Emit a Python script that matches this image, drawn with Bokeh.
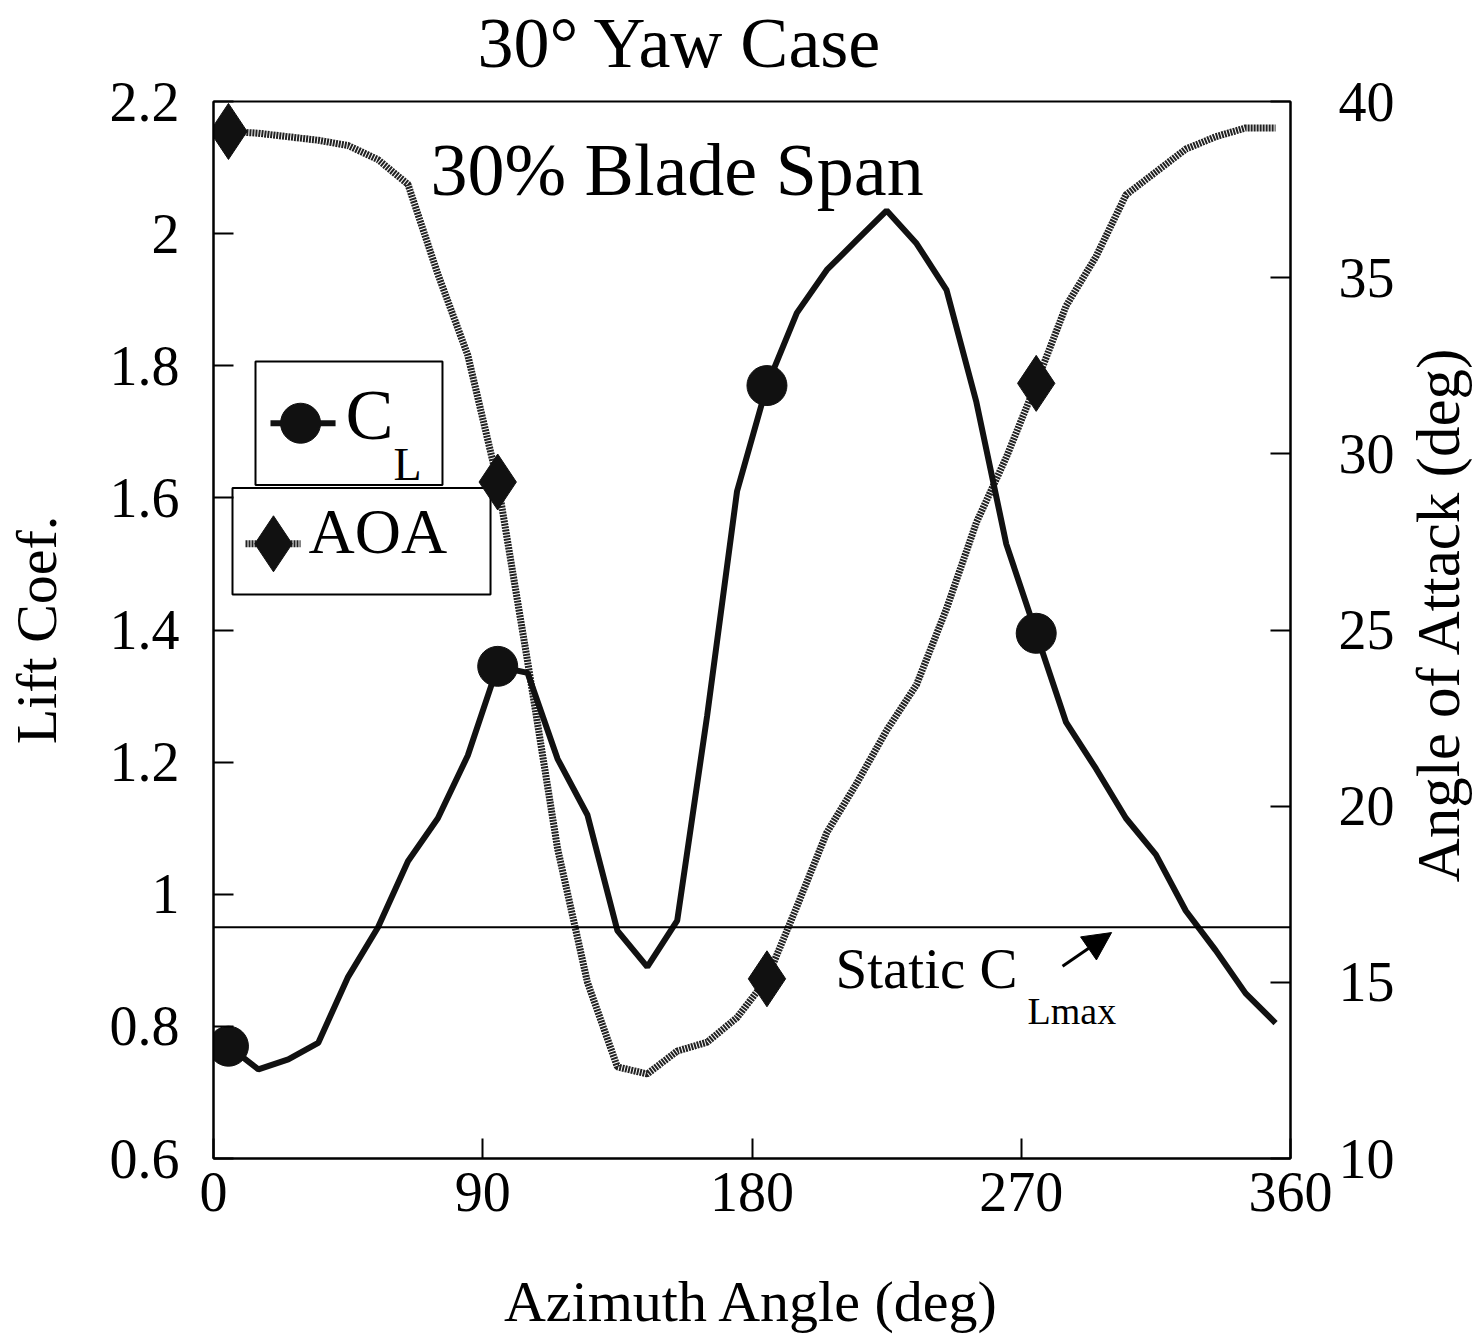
import math
from bokeh.plotting import figure
from bokeh.layouts import row
from bokeh.models import (Range1d, LinearAxis, FixedTicker, Span, Label, Arrow,
                          NormalHead, Title)
from bokeh.embed import file_html
from bokeh.resources import INLINE

# ---- data ----
azimuth = [5, 15, 25, 35, 45, 55, 65, 75, 85, 95, 105, 115, 125, 135, 145, 155, 165, 175,
           185, 195, 205, 215, 225, 235, 245, 255, 265, 275, 285, 295, 305, 315, 325, 335, 345, 355]
lift_coef = [0.77, 0.735, 0.75, 0.775, 0.875, 0.95, 1.05, 1.115, 1.21, 1.345, 1.335, 1.205,
             1.12, 0.945, 0.89, 0.96, 1.27, 1.61, 1.77, 1.88, 1.945, 1.99, 2.035, 1.985,
             1.915, 1.745, 1.53, 1.395, 1.26, 1.19, 1.115, 1.06, 0.975, 0.915, 0.85, 0.805]
aoa = [39.15, 39.1, 39.0, 38.9, 38.75, 38.35, 37.65, 35.1, 32.8, 29.2, 24.1, 18.8,
       15.0, 12.6, 12.4, 13.05, 13.3, 14.0, 15.1, 17.15, 19.25, 20.65, 22.15, 23.45,
       25.6, 28.05, 29.9, 32.0, 34.2, 35.6, 37.35, 38.0, 38.65, 39.0, 39.25, 39.25]
marker_every = 9
static_clmax = 0.95

x_ticks = [0, 90, 180, 270, 360]
x_tick_labels = ["0", "90", "180", "270", "360"]
cl_ticks = [0.6, 0.8, 1.0, 1.2, 1.4, 1.6, 1.8, 2.0, 2.2]
cl_tick_labels = ["0.6", "0.8", "1", "1.2", "1.4", "1.6", "1.8", "2", "2.2"]
aoa_ticks = [10, 15, 20, 25, 30, 35, 40]
aoa_tick_labels = ["10", "15", "20", "25", "30", "35", "40"]

FONT = "Liberation Serif"
INK = "#111111"

W, H = 1400, 1337
p = figure(width=W, height=H, output_backend="svg", toolbar_location=None,
           x_range=Range1d(0, 360), y_range=Range1d(0.6, 2.2),
           min_border_left=213, min_border_right=W - 1290, min_border_top=97,
           min_border_bottom=H - 1158)
p.extra_y_ranges = {"aoa": Range1d(10, 40)}
p.grid.visible = False
p.outline_line_color = "black"
p.outline_line_width = 2
p.background_fill_color = "white"
p.border_fill_color = "white"

# title: spacer (nearest the frame) + main text
p.add_layout(Title(text=" ", text_font_size="16px", standoff=0), "above")
p.add_layout(Title(text="30° Yaw Case", text_font=FONT, text_font_size="72px",
                   text_font_style="normal", text_color="black", align="left",
                   offset=264, standoff=0, vertical_align="bottom"), "above")

ax_right = LinearAxis(y_range_name="aoa")
p.add_layout(ax_right, "right")

def style_axis(ax, ticks, labels):
    ax.ticker = FixedTicker(ticks=ticks)
    ax.major_label_overrides = {t: l for t, l in zip(ticks, labels)}
    ax.major_tick_in = 20
    ax.major_tick_out = 0
    ax.minor_tick_in = 0
    ax.minor_tick_out = 0
    ax.major_tick_line_width = 2
    ax.axis_line_width = 2
    ax.major_label_text_font = FONT
    ax.major_label_text_font_size = "56px"
    ax.major_label_text_color = "black"
    ax.axis_label_text_font = FONT
    ax.axis_label_text_font_size = "58px"
    ax.axis_label_text_font_style = "normal"
    ax.axis_label_text_color = "black"

style_axis(p.xaxis[0], x_ticks, x_tick_labels)
style_axis(p.yaxis[0], cl_ticks, cl_tick_labels)
style_axis(ax_right, aoa_ticks, aoa_tick_labels)

p.xaxis[0].axis_label = "Azimuth Angle (deg)"
p.xaxis[0].major_label_standoff = 14
p.xaxis[0].axis_label_standoff = 55
p.yaxis[0].axis_label = "Lift Coef."
p.yaxis[0].major_label_standoff = 34
p.yaxis[0].axis_label_standoff = 38
ax_right.major_label_standoff = 48

# legend boxes (drawn first so data marks sit on top)
p.quad(left=[14.04], right=[76.54], top=[1.8065], bottom=[1.6195],
       fill_color="white", line_color="black", line_width=2)
p.quad(left=[6.35], right=[92.6], top=[1.615], bottom=[1.4536],
       fill_color="white", line_color="black", line_width=2)

# static CLmax line
p.add_layout(Span(location=static_clmax, dimension="width", line_color="black", line_width=2))

# AOA series (hatched grey)
p.line(azimuth, aoa, y_range_name="aoa", line_color="#222222", line_width=7, line_dash="2 1")
p.scatter(azimuth[::marker_every], aoa[::marker_every], y_range_name="aoa", marker="diamond",
          size=56, fill_color=INK, line_color=INK)

# CL series
p.line(azimuth, lift_coef, line_color=INK, line_width=6)
p.scatter(azimuth[::marker_every], lift_coef[::marker_every], marker="circle", size=40,
          fill_color=INK, line_color=INK)

# legend symbols
p.segment(x0=[19.05], y0=[1.713], x1=[40.8], y1=[1.713], line_color=INK, line_width=6)
p.scatter([29.1], [1.713], marker="circle", size=40, fill_color=INK, line_color=INK)
p.segment(x0=[10.7], y0=[1.5305], x1=[29.1], y1=[1.5305], line_color="#222222",
          line_width=7, line_dash="2 1")
p.scatter([20.05], [1.5305], marker="diamond", size=56, fill_color=INK, line_color=INK)

def lab(fig, x, y, t, size, align="left", baseline="alphabetic", angle=0.0):
    fig.add_layout(Label(x=x, y=y, text=t, text_font=FONT, text_font_size=size,
                         text_align=align, text_baseline=baseline, text_color="black",
                         angle=angle))

lab(p, 44.1, 1.725, "C", "72px")
lab(p, 60.2, 1.6505, "L", "46px")
lab(p, 31.75, 1.5486, "AOA", "64px")

lab(p, 72.5, 2.096, "30% Blade Span", "74px")
lab(p, 207.9, 0.887, "Static C", "57px")
lab(p, 272.1, 0.823, "Lmax", "38px")

p.add_layout(Arrow(end=NormalHead(size=28, fill_color="black", line_color="black"),
                   x_start=283.8, y_start=0.891, x_end=300.2, y_end=0.942,
                   line_color="black", line_width=3))

# right-hand axis title (reads bottom to top, like the left one)
QW = 79
q = figure(width=QW, height=H, output_backend="svg", toolbar_location=None,
           x_range=Range1d(0, QW), y_range=Range1d(0, H), x_axis_type=None,
           y_axis_type=None, min_border=0)
q.grid.visible = False
q.outline_line_color = None
q.background_fill_color = "white"
q.border_fill_color = "white"
lab(q, 38, H - 648, "Angle of Attack (deg)", "61px", align="center", baseline="middle",
    angle=math.pi / 2)

layout = row(p, q, spacing=0)
open("out.html", "w").write(file_html(layout, INLINE))
